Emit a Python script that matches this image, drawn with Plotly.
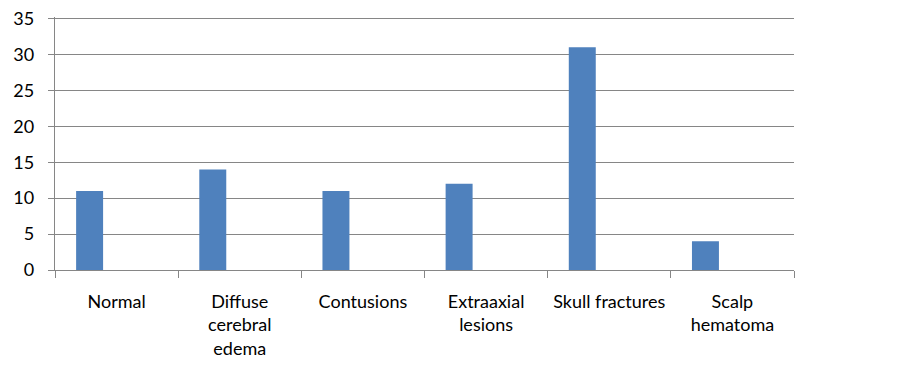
import plotly.graph_objects as go

categories = ["Normal", "Diffuse<br>cerebral<br>edema", "Contusions",
              "Extraaxial<br>lesions", "Skull fractures", "Scalp<br>hematoma"]
values = [11, 14, 11, 12, 31, 4]
y_ticks = [0, 5, 10, 15, 20, 25, 30, 35]

grid = "#868686"
fig = go.Figure()
fig.add_trace(go.Bar(x=categories, y=values, marker=dict(color="#4F81BD", line=dict(width=0))))
# two empty series so the bar sits where Excel's first-of-three would
fig.add_trace(go.Bar(x=categories, y=[None] * len(categories), showlegend=False))
fig.add_trace(go.Bar(x=categories, y=[None] * len(categories), showlegend=False))

fig.update_layout(
    width=903, height=369,
    margin=dict(l=46.5, r=117, t=8.5, b=107),
    paper_bgcolor="white", plot_bgcolor="white",
    barmode="group", bargap=0.343, bargroupgap=0,
    showlegend=False,
    font=dict(family="Lato, Carlito, Calibri, sans-serif", size=18, color="black"),
)
fig.update_xaxes(
    type="category", tickson="boundaries", showgrid=False, automargin=False,
    showline=True, linecolor=grid, linewidth=1.3,
    ticks="outside", ticklen=7, tickcolor=grid, tickwidth=1.3,
    tickfont=dict(size=18), ticklabelstandoff=15,
)
fig.update_yaxes(
    range=[0, 35.2], tickvals=y_ticks, showgrid=True, gridcolor=grid, gridwidth=1.3,
    showline=True, linecolor=grid, linewidth=1.3, zeroline=False, automargin=False,
    ticks="outside", ticklen=6, tickcolor=grid, tickwidth=1.3,
    tickfont=dict(size=18), ticklabelstandoff=10, ticklabeloverflow="allow",
)
fig.write_html("out.html")
